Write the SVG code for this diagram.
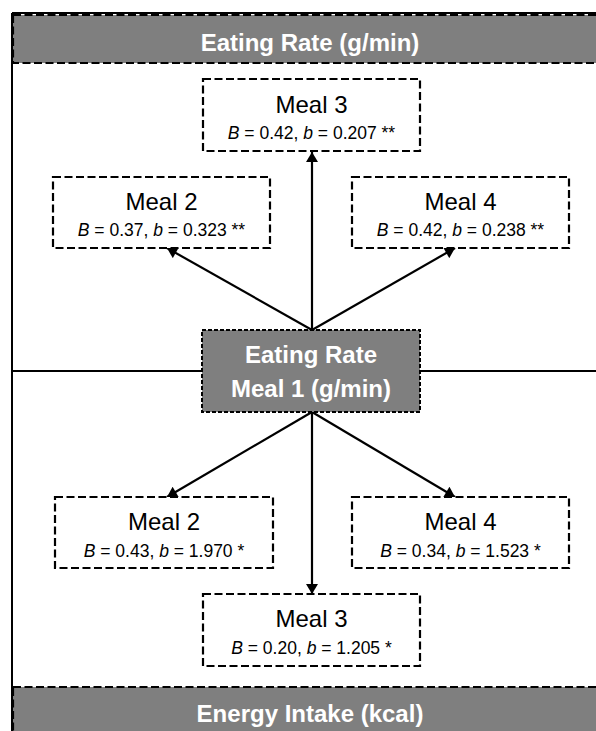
<svg xmlns="http://www.w3.org/2000/svg" width="596" height="731" viewBox="0 0 596 731">
<style>
.band{fill:#7f7f7f;stroke:#000;stroke-width:2.2;stroke-dasharray:8 3.5}
.box{fill:#fff;stroke:#000;stroke-width:2.2;stroke-dasharray:8 3.5}
.cbox{fill:#7f7f7f;stroke:#000;stroke-width:2;stroke-dasharray:4 2}
.frame{stroke:#000;stroke-width:2;fill:none}
.conn{stroke:#000;stroke-width:2.2;fill:none;marker-end:url(#ah)}
.hd{font-family:"Liberation Sans",Arial,sans-serif;font-weight:bold;font-size:24px;fill:#fff;text-anchor:middle}
.t1{font-family:"Liberation Sans",Arial,sans-serif;font-size:24px;fill:#000;text-anchor:middle}
.t2{font-family:"Liberation Sans",Arial,sans-serif;font-size:17.5px;fill:#000;text-anchor:middle}
.i{font-style:italic}
</style>
<defs>
<marker id="ah" viewBox="0 0 10 12" refX="10" refY="6" markerWidth="11" markerHeight="12" markerUnits="userSpaceOnUse" orient="auto">
<path d="M0,0 L10,6 L0,12 z" fill="#000"/>
</marker>
</defs>
<rect width="596" height="731" fill="#fff"/>
<g id="frame">
<line class="frame" x1="12" y1="13" x2="12" y2="731"/>
<line class="frame" x1="12" y1="13" x2="596" y2="13"/>
<line class="frame" x1="12" y1="371" x2="202" y2="371"/>
<line class="frame" x1="420" y1="371" x2="596" y2="371"/>
</g>
<g id="header-top">
<rect class="band" x="13" y="15" width="600" height="48"/>
<text class="hd" x="310" y="51">Eating Rate (g/min)</text>
</g>
<g id="header-bottom">
<rect class="band" x="13" y="687" width="600" height="60"/>
<text class="hd" x="310" y="722">Energy Intake (kcal)</text>
</g>
<g id="connectors">
<line class="conn" x1="312" y1="330" x2="312" y2="152"/>
<line class="conn" x1="312" y1="330" x2="167" y2="248"/>
<line class="conn" x1="312" y1="330" x2="455" y2="248"/>
<line class="conn" x1="312" y1="412" x2="312" y2="594"/>
<line class="conn" x1="312" y1="412" x2="167" y2="497"/>
<line class="conn" x1="312" y1="412" x2="455" y2="497"/>
</g>
<g id="center">
<rect class="cbox" x="202" y="330" width="218" height="82"/>
<text class="hd" x="311" y="363">Eating Rate</text>
<text class="hd" x="311" y="397">Meal 1 (g/min)</text>
</g>
<g id="rate-meal3">
<rect class="box" x="203" y="79" width="217" height="72"/>
<text class="t1" x="311.5" y="113">Meal 3</text>
<text class="t2" x="311.5" y="139"><tspan class="i">B</tspan> = 0.42, <tspan class="i">b</tspan> = 0.207 **</text>
</g>
<g id="rate-meal2">
<rect class="box" x="53" y="177" width="217" height="71"/>
<text class="t1" x="161.5" y="210">Meal 2</text>
<text class="t2" x="161.5" y="236"><tspan class="i">B</tspan> = 0.37, <tspan class="i">b</tspan> = 0.323 **</text>
</g>
<g id="rate-meal4">
<rect class="box" x="352" y="177" width="217" height="71"/>
<text class="t1" x="460.5" y="210">Meal 4</text>
<text class="t2" x="460.5" y="236"><tspan class="i">B</tspan> = 0.42, <tspan class="i">b</tspan> = 0.238 **</text>
</g>
<g id="energy-meal2">
<rect class="box" x="55" y="497" width="218" height="71"/>
<text class="t1" x="164" y="530">Meal 2</text>
<text class="t2" x="164" y="557"><tspan class="i">B</tspan> = 0.43, <tspan class="i">b</tspan> = 1.970 *</text>
</g>
<g id="energy-meal4">
<rect class="box" x="352" y="497" width="217" height="71"/>
<text class="t1" x="460.5" y="530">Meal 4</text>
<text class="t2" x="460.5" y="557"><tspan class="i">B</tspan> = 0.34, <tspan class="i">b</tspan> = 1.523 *</text>
</g>
<g id="energy-meal3">
<rect class="box" x="203" y="594" width="217" height="72"/>
<text class="t1" x="311.5" y="627">Meal 3</text>
<text class="t2" x="311.5" y="654"><tspan class="i">B</tspan> = 0.20, <tspan class="i">b</tspan> = 1.205 *</text>
</g>
</svg>
